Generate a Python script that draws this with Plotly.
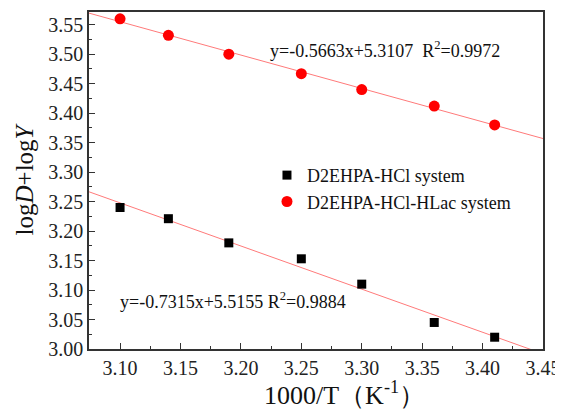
import plotly.graph_objects as go

x_vals = [3.10, 3.14, 3.19, 3.25, 3.30, 3.36, 3.41]
hcl_y = [3.240, 3.221, 3.180, 3.153, 3.110, 3.045, 3.020]
hlac_y = [3.560, 3.532, 3.500, 3.467, 3.440, 3.412, 3.380]
fit_hcl = (-0.7315, 5.5155)
fit_hlac = (-0.5663, 5.3107)
x_range = [3.0743, 3.45]
y_range = [3.0, 3.5716]
x_ticks = [3.10, 3.15, 3.20, 3.25, 3.30, 3.35, 3.40, 3.45]
y_ticks = [3.00, 3.05, 3.10, 3.15, 3.20, 3.25, 3.30, 3.35, 3.40, 3.45, 3.50, 3.55]

FONT = "Liberation Serif, Times New Roman, serif"
fig = go.Figure()
line_x = [x_range[0], x_range[1]]
for m, b in (fit_hcl, fit_hlac):
    fig.add_trace(go.Scatter(x=line_x, y=[m * xx + b for xx in line_x], mode="lines",
                             line=dict(color="#ff7a7a", width=1), showlegend=False,
                             hoverinfo="skip"))
fig.add_trace(go.Scatter(x=x_vals, y=hcl_y, mode="markers", name="D2EHPA-HCl system",
                         marker=dict(symbol="square", size=9, color="black")))
fig.add_trace(go.Scatter(x=x_vals, y=hlac_y, mode="markers", name="D2EHPA-HCl-HLac system",
                         marker=dict(symbol="circle", size=11, color="red")))

axis_common = dict(showline=True, linecolor="#333", linewidth=1.5, mirror=True,
                   ticks="inside", ticklen=6, tickcolor="#333", showgrid=False, zeroline=False,
                   automargin=False,
                   tickfont=dict(family=FONT, size=20, color="#222"))
fig.update_xaxes(range=x_range, tickvals=x_ticks, ticktext=[f"{v:.2f}" for v in x_ticks],
                 minor=dict(ticks="inside", ticklen=3, dtick=0.025, tick0=3.0, tickcolor="#333"),
                 **axis_common)
fig.update_yaxes(range=y_range, tickvals=y_ticks, ticktext=[f"{v:.2f}" for v in y_ticks],
                 minor=dict(ticks="inside", ticklen=3, dtick=0.025, tick0=3.0, tickcolor="#333"),
                 title=dict(text="log<i>D</i>+log<i>Y</i>", font=dict(family=FONT, size=25, color="#111"),
                            standoff=8),
                 **axis_common)
fig.add_annotation(x=0.381, y=-0.132, xref="paper", yref="paper", xanchor="left", yanchor="middle",
                   text="1000/T（K<sup>-1</sup>）", showarrow=False,
                   font=dict(family=FONT, size=26, color="#111"))
fig.add_annotation(x=3.2226, y=3.5085, xref="x", yref="y", xanchor="left", yanchor="middle",
                   text="y=-0.5663x+5.3107  R<sup>2</sup>=0.9972", showarrow=False,
                   font=dict(family=FONT, size=18, color="#111"))
fig.add_annotation(x=3.098, y=3.0817, xref="x", yref="y", xanchor="left", yanchor="middle",
                   text="y=-0.7315x+5.5155 R<sup>2</sup>=0.9884", showarrow=False,
                   font=dict(family=FONT, size=18, color="#111"))
fig.update_layout(width=555, height=404, margin=dict(l=81, r=20, t=4, b=63),
                  plot_bgcolor="white", paper_bgcolor="white",
                  legend=dict(x=0.392, y=0.57, xanchor="left", yanchor="top", bgcolor="rgba(0,0,0,0)",
                              font=dict(family=FONT, size=18, color="#111"), itemwidth=30,
                              tracegroupgap=0))
fig.write_html("out.html")
